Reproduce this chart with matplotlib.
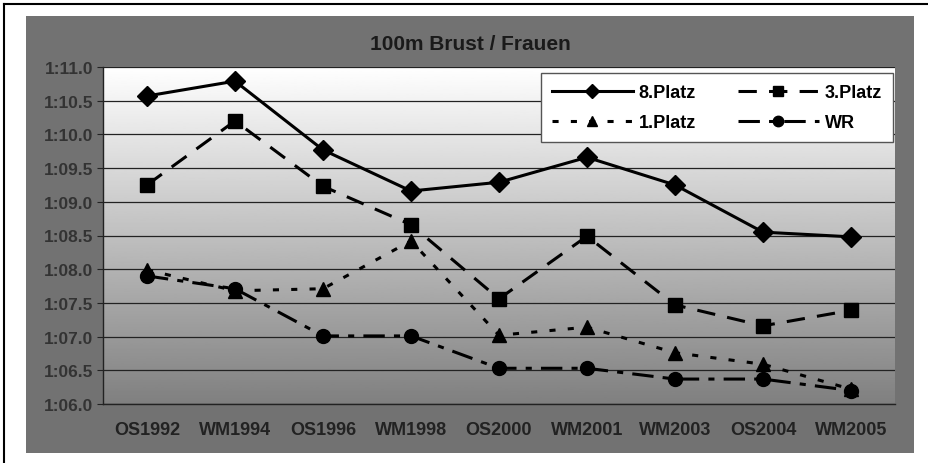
import numpy as np
import matplotlib
matplotlib.use('Agg')
import matplotlib.pyplot as plt
from matplotlib.lines import Line2D

plt.rcParams['font.family'] = ['Liberation Sans', 'DejaVu Sans']

events = ['OS1992', 'WM1994', 'OS1996', 'WM1998', 'OS2000', 'WM2001', 'WM2003', 'OS2004', 'WM2005']
# times in seconds
platz8 = [70.57, 70.79, 69.77, 69.16, 69.29, 69.66, 69.25, 68.55, 68.48]
platz3 = [69.25, 70.20, 69.23, 68.66, 67.56, 68.49, 67.47, 67.16, 67.39]
platz1 = [67.99, 67.68, 67.71, 68.42, 67.02, 67.14, 66.76, 66.59, 66.22]
wr = [67.90, 67.71, 67.01, 67.01, 66.53, 66.53, 66.37, 66.37, 66.20]

y_ticks = np.arange(66.0, 71.01, 0.5)


def fmt_time(v):
    m = int(v // 60)
    s = v - 60 * m
    return f'{m}:{s:04.1f}'


fig = plt.figure(figsize=(9.29, 4.64), dpi=100)
fig.patch.set_facecolor('white')

# gray chart background and scan frame
bg = plt.Rectangle((26 / 929, 1 - 454 / 464), 888 / 929, 437 / 464,
                   transform=fig.transFigure, facecolor='#727272', edgecolor='none')
bg.set_zorder(-5)
fig.add_artist(bg)
fig.add_artist(Line2D([4 / 929, 4 / 929], [0.0, 1 - 5 / 464], color='black', lw=1.5,
                      transform=fig.transFigure))
fig.add_artist(Line2D([4 / 929, 1.0], [1 - 5 / 464, 1 - 5 / 464], color='black', lw=1.5,
                      transform=fig.transFigure))

ax = fig.add_axes([103 / 929, 1 - 405 / 464, 792 / 929, 337 / 464])
ax.set_zorder(2)
ax.set_facecolor('none')

# white-to-gray gradient in the plot area
grad = np.linspace(0.5, 1.0, 256).reshape(-1, 1)
ax.imshow(grad, cmap='gray', vmin=0, vmax=1, origin='lower', aspect='auto',
          extent=[0, 1, 0, 1], transform=ax.transAxes, zorder=0)

x = np.arange(len(events))
ax.plot(x, platz8, color='black', lw=2.2, marker='D', ms=10, label='8.Platz', zorder=5)
ax.plot(x, platz3, color='black', lw=2.2, ls=(0, (6, 4)), marker='s', ms=10, label='3.Platz', zorder=5)
ax.plot(x, platz1, color='black', lw=2.2, ls=(0, (2, 4)), marker='^', ms=10, label='1.Platz', zorder=5)
ax.plot(x, wr, color='black', lw=2.2, ls=(0, (7, 3, 2, 3)), marker='o', ms=10, label='WR', zorder=5)

ax.set_xlim(-0.5, len(events) - 0.5)
ax.set_ylim(66.0, 71.0)
ax.set_yticks(y_ticks)
ax.set_yticklabels([fmt_time(v) for v in y_ticks])
ax.set_xticks(x)
ax.set_xticklabels(events)
ax.grid(axis='y', color='#222222', lw=0.9, zorder=1)
ax.set_axisbelow(True)

for side in ['top', 'right']:
    ax.spines[side].set_visible(False)
for side in ['left', 'bottom']:
    ax.spines[side].set_color('#222222')
    ax.spines[side].set_linewidth(1.0)

ax.tick_params(axis='y', length=4, color='#222222', labelsize=12.5, labelcolor='#333333', pad=3)
ax.tick_params(axis='x', length=0, labelsize=13, labelcolor='#222222', pad=12)
for lab in ax.get_xticklabels() + ax.get_yticklabels():
    lab.set_fontweight('bold')

fig.text(470 / 929, 1 - 44 / 464, '100m Brust / Frauen', ha='center', va='center',
         fontsize=15, fontweight='bold', color='#1a1a1a')

handles, labels = ax.get_legend_handles_labels()
order = [0, 2, 1, 3]
leg = ax.legend([handles[i] for i in order], [labels[i] for i in order], ncol=2,
                loc='upper left', bbox_to_anchor=(0.553, 0.786, 0.444, 0.196), mode='expand',
                borderaxespad=0, markerscale=0.75,
                prop={'weight': 'bold', 'size': 13}, frameon=True, fancybox=False,
                handlelength=4.5, columnspacing=1.5, borderpad=0.6, labelspacing=0.75,
                handletextpad=0.3)
leg.get_frame().set_facecolor('white')
leg.get_frame().set_edgecolor('#555555')
leg.get_frame().set_alpha(1.0)
leg.set_zorder(10)

fig.savefig('out.png', dpi=100)
